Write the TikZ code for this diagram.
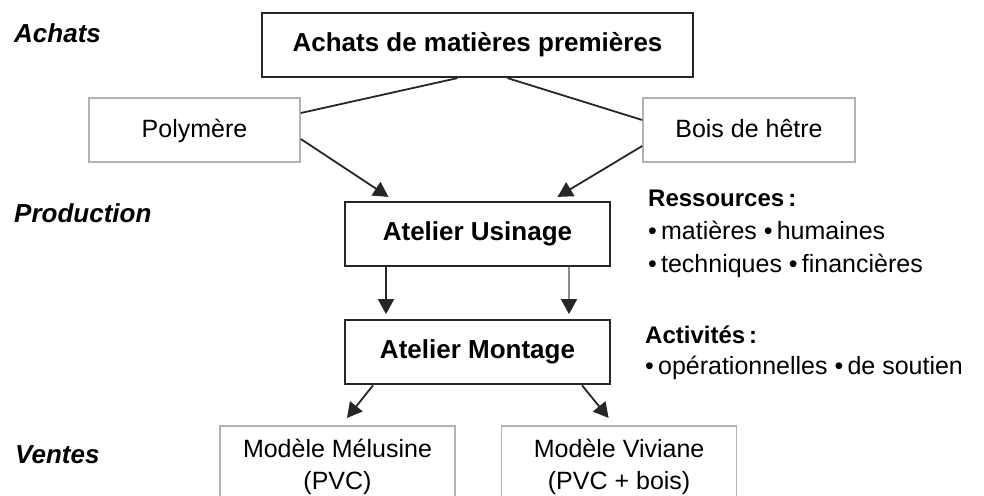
\documentclass[tikz,border=0pt]{standalone}
\usepackage{fontspec}
\setmainfont{Liberation Sans}
\usetikzlibrary{positioning,arrows.meta}
\tikzset{bold box/.style={rectangle,draw=black!85,line width=2.2pt,minimum height=64pt,inner sep=0pt,font=\fontsize{26}{30}\selectfont\bfseries}}
\tikzset{light box/.style={rectangle,draw=black!30,line width=1.6pt,minimum height=64pt,inner sep=0pt,align=center,font=\fontsize{25}{32}\selectfont}}
\tikzset{stage label/.style={anchor=west,inner sep=0pt,font=\fontsize{26}{30}\selectfont\bfseries\itshape}}
\tikzset{side title/.style={anchor=west,inner sep=0pt,font=\fontsize{24}{30}\selectfont\bfseries}}
\tikzset{side list/.style={anchor=west,inner sep=0pt,align=left,font=\fontsize{25}{33}\selectfont}}
\tikzset{flow/.style={draw=black!85,line width=1.8pt,-{Triangle[width=16pt,length=15pt]}}}

\begin{document}
\begin{tikzpicture}[x=1pt,y=-1pt]
        \useasboundingbox (0,0) rectangle (984,495);

        % stages
        \node[stage label] (achatslbl) at (14,33) {Achats};
        \node[stage label] (productionlbl) at (14,213) {Production};
        \node[stage label] (venteslbl) at (15,455) {Ventes};

        \node[bold box, minimum width=431pt] (achats) at (477.5,45) {Achats de matières premières};
        \node[light box, minimum width=211pt, text height=18pt, text depth=3pt] (polymere) at (194.5,130) {Polymère};
        \node[light box, minimum width=212pt, text height=18pt, text depth=3pt] (bois) at (749,130) {Bois de hêtre};
        \node[bold box, minimum width=265pt] (usinage) at (477.5,234) {Atelier Usinage};
        \node[bold box, minimum width=265pt] (montage) [below = 52pt of usinage] {Atelier Montage};
        \node[light box, minimum width=235pt, minimum height=82pt, anchor=north] (melusine) at (337.5,425) {Modèle Mélusine\\(PVC)};
        \node[light box, minimum width=235pt, minimum height=82pt] (viviane) [right = 45pt of melusine] {Modèle Viviane\\(PVC + bois)};

        % ressources / activites
        \node[side title] (ressources) at (648,198) {Ressources\,:};
        \node[side list] (resslist) at (648,249.5) {\textbullet\,matières \textbullet\,humaines\\\textbullet\,techniques \textbullet\,financières};
        \node[side title] (activites) at (645,335) {Activités\,:};
        \node[side list] (actlist) at (645,368) {\textbullet\,opérationnelles \textbullet\,de soutien};

        \path[draw=black!85, line width=1.8pt]
        ([xshift=-20pt]achats.south) edge ([yshift=17pt]polymere.east)
        ([xshift=30pt]achats.south) edge ([yshift=10pt]bois.west);

        \draw[flow] ([yshift=-9pt]polymere.east) -- ([xshift=-89pt,yshift=4pt]usinage.north);
        \draw[flow] ([yshift=-16pt]bois.west) -- ([xshift=80pt,yshift=4pt]usinage.north);
        \draw[flow] ([xshift=-91.5pt]usinage.south) -- ([xshift=-91.5pt,yshift=5pt]montage.north);
        \draw[flow, draw=black!45, -{Triangle[width=16pt,length=15pt,color=black!85,fill=black!85]}] ([xshift=91.5pt]usinage.south) -- ([xshift=91.5pt,yshift=5pt]montage.north);
        \draw[flow] ([xshift=-104.5pt]montage.south) -- ([xshift=9.5pt,yshift=7pt]melusine.north);
        \draw[flow] ([xshift=104.5pt]montage.south) -- ([xshift=-10.5pt,yshift=7pt]viviane.north);
    \end{tikzpicture}
\end{document}
